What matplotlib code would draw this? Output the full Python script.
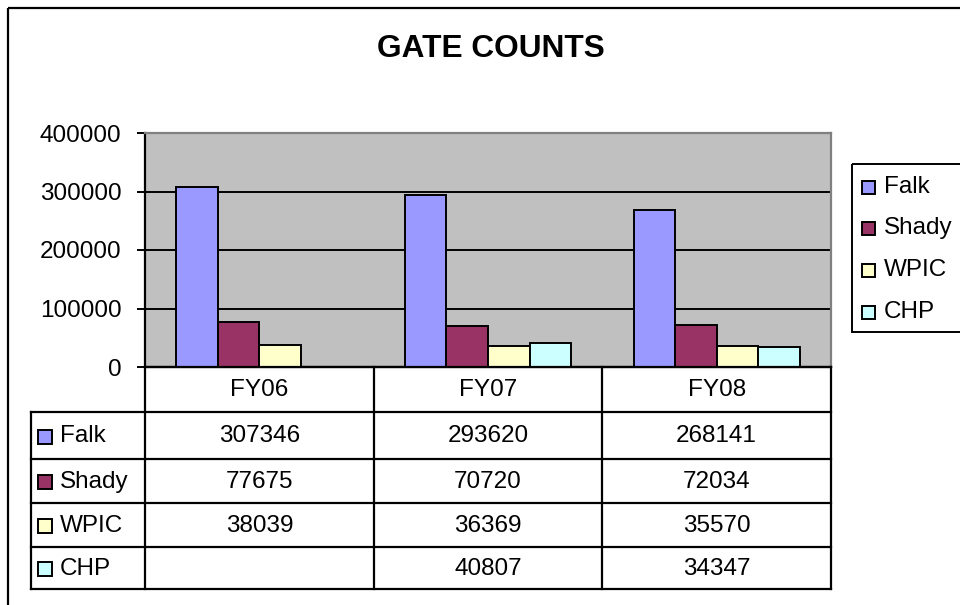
import matplotlib
matplotlib.use("Agg")
import matplotlib.pyplot as plt
from matplotlib.patches import Rectangle
import numpy as np

plt.rcParams['font.family'] = ['Liberation Sans', 'DejaVu Sans']

title = "GATE COUNTS"
categories = ["FY06", "FY07", "FY08"]
series_names = ["Falk", "Shady", "WPIC", "CHP"]
falk = [307346, 293620, 268141]
shady = [77675, 70720, 72034]
wpic = [38039, 36369, 35570]
chp = [None, 40807, 34347]
series_values = [falk, shady, wpic, chp]
colors = ["#9999FF", "#993366", "#FFFFCC", "#CCFFFF"]
yticks = [0, 100000, 200000, 300000, 400000]

W, H = 960, 605
FS = 17.5
fig = plt.figure(figsize=(W / 100, H / 100), dpi=100)

# pixel layout
pl, pr, pt, pb = 145, 831, 133, 367


def fx(x):
    return x / W


def fy(y):
    return 1 - y / H


ax = fig.add_axes([fx(pl), fy(pb), fx(pr - pl), (pb - pt) / H])
ax.set_facecolor("#C0C0C0")
n_series = len(series_names)
bw = 1.0 / (n_series + 1.5)
x = np.arange(len(categories))
for i, (name, vals, c) in enumerate(zip(series_names, series_values, colors)):
    v = [np.nan if val is None else val for val in vals]
    off = (i - (n_series - 1) / 2) * bw
    ax.bar(x + off, v, width=bw, color=c, edgecolor="black", linewidth=1.4,
           label=name, zorder=3)
ax.set_xlim(-0.5, len(categories) - 0.5)
ax.set_ylim(0, 400000)
ax.set_yticks(yticks)
ax.set_yticklabels([str(t) for t in yticks], fontsize=FS)
ax.yaxis.grid(True, color="black", linewidth=1.4, zorder=1)
ax.set_xticks([])
ax.tick_params(axis="y", direction="out", length=6, width=1.4, pad=11)
for s in ["top", "right"]:
    ax.spines[s].set_color("#808080")
    ax.spines[s].set_linewidth(1.6)
for s in ["left", "bottom"]:
    ax.spines[s].set_color("black")
    ax.spines[s].set_linewidth(1.6)

# overlay in pixel coordinates
ov = fig.add_axes([0, 0, 1, 1], facecolor="none")
ov.set_xlim(0, W)
ov.set_ylim(H, 0)
ov.axis("off")

# outer border
ov.add_patch(Rectangle((7.5, 7.5), W + 10, H + 10, fill=False, edgecolor="black", lw=1.6))

ov.text(490.5, 49, title, ha="center", va="center", fontsize=22.8,
        fontweight="bold")

# data table
lw = 1.6
tl = 31
rows_y = [367, 412, 459, 503, 547, 589]
colw = (pr - pl) / len(categories)
col_x = [pl + j * colw for j in range(len(categories) + 1)]
ov.plot([pl, pr], [rows_y[0], rows_y[0]], color="black", lw=lw)
for yy in rows_y[1:]:
    ov.plot([tl, pr], [yy, yy], color="black", lw=lw)
ov.plot([tl, tl], [rows_y[1], rows_y[-1]], color="black", lw=lw)
for xx in col_x:
    ov.plot([xx, xx], [rows_y[0], rows_y[-1]], color="black", lw=lw)
for j, cat in enumerate(categories):
    ov.text(col_x[j] + colw / 2, (rows_y[0] + rows_y[1]) / 2 + 1, cat,
            ha="center", va="center", fontsize=FS)
for i, (name, vals, c) in enumerate(zip(series_names, series_values, colors)):
    yc = (rows_y[i + 1] + rows_y[i + 2]) / 2 + 1
    ov.add_patch(Rectangle((38, yc - 7), 14, 14, facecolor=c, edgecolor="black", lw=1.4))
    ov.text(60, yc, name, ha="left", va="center", fontsize=FS)
    for j, val in enumerate(vals):
        if val is not None:
            ov.text(col_x[j] + colw / 2, yc, str(val), ha="center", va="center",
                    fontsize=FS)

# legend
ov.add_patch(Rectangle((852, 164), 130, 168, fill=False, edgecolor="black", lw=1.4))
leg_y = [187, 228, 270, 312]
for name, c, yy in zip(series_names, colors, leg_y):
    ov.add_patch(Rectangle((862, yy - 6.5), 13, 13, facecolor=c, edgecolor="black", lw=1.4))
    ov.text(884, yy, name, ha="left", va="center", fontsize=FS)

fig.savefig("out.png", dpi=100)
